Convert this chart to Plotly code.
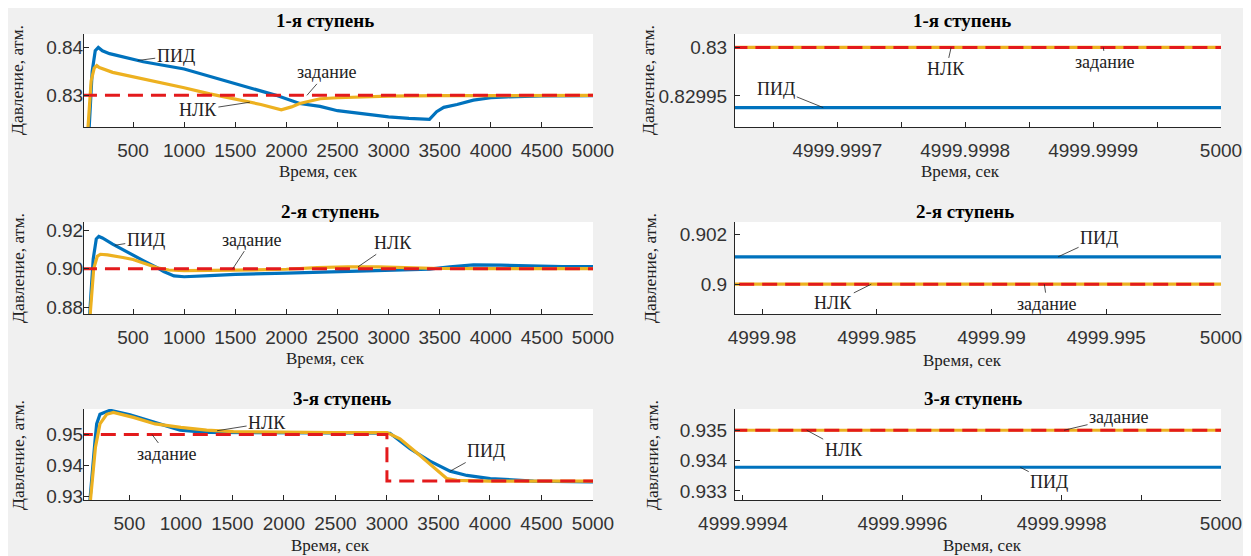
import numpy as np
import plotly.graph_objects as go

# ---------------- data ----------------
# Stage 1 (full time range)
s1_pid_t = [20, 70, 100, 130, 160, 200, 270, 400, 600, 1000, 1500, 1900, 2130, 2330, 2500, 2750, 3000, 3200, 3400, 3470, 3540, 3670, 3830, 4000, 4160, 4500, 5000]
s1_pid = [0.60, 0.823, 0.835, 0.8393, 0.8400, 0.8393, 0.8387, 0.8380, 0.8370, 0.8355, 0.8324, 0.8300, 0.8283, 0.8277, 0.8268, 0.8261, 0.8255, 0.8252, 0.8250, 0.8266, 0.8275, 0.8281, 0.8290, 0.8295, 0.8297, 0.82990, 0.82994]
s1_nlk_t = [20, 55, 90, 120, 145, 170, 300, 500, 750, 1000, 1250, 1500, 1750, 1950, 2050, 2130, 2330, 2500, 2750, 3000, 3500, 4000, 5000]
s1_nlk = [0.60, 0.822, 0.833, 0.8357, 0.8362, 0.8358, 0.8348, 0.8339, 0.8328, 0.8316, 0.8303, 0.8292, 0.8281, 0.8270, 0.8276, 0.8283, 0.8293, 0.8295, 0.8297, 0.82985, 0.82993, 0.82997, 0.83]
s1_sp_t = [0, 5000]
s1_sp = [0.83, 0.83]

# Stage 2
s2_pid_t = [20, 75, 110, 140, 165, 200, 300, 400, 500, 600, 735, 800, 900, 1000, 1250, 1500, 2000, 2500, 3000, 3400, 3600, 3830, 4100, 4400, 4700, 5000]
s2_pid = [0.70, 0.876, 0.905, 0.9155, 0.9168, 0.9160, 0.9128, 0.9098, 0.9070, 0.9042, 0.9005, 0.8985, 0.8962, 0.8958, 0.8964, 0.8970, 0.8977, 0.8984, 0.8992, 0.8998, 0.9010, 0.9020, 0.9018, 0.9013, 0.9011, 0.9011]
s2_nlk_t = [20, 80, 115, 150, 180, 250, 400, 500, 600, 735, 850, 1000, 1500, 2000, 2300, 2600, 2900, 3200, 3500, 4000, 5000]
s2_nlk = [0.70, 0.876, 0.900, 0.9065, 0.9075, 0.9072, 0.9058, 0.9048, 0.9030, 0.9005, 0.8993, 0.8990, 0.8992, 0.8997, 0.9005, 0.9010, 0.9009, 0.9004, 0.9001, 0.9000, 0.9000]
s2_sp_t = [0, 5000]
s2_sp = [0.90, 0.90]

# Stage 3
s3_pid_t = [20, 118, 167, 183, 215, 313, 507, 750, 993, 1252, 1600, 2000, 2500, 3000, 3030, 3224, 3418, 3613, 3776, 4003, 4423, 5000]
s3_pid = [0.80, 0.929, 0.948, 0.9534, 0.9565, 0.9578, 0.9563, 0.9539, 0.9514, 0.9507, 0.9506, 0.9505, 0.9505, 0.9504, 0.9504, 0.9454, 0.9414, 0.9382, 0.9368, 0.9358, 0.9350, 0.9347]
s3_nlk_t = [20, 123, 171, 215, 280, 345, 539, 750, 1000, 1250, 1510, 2000, 2500, 3000, 3127, 3321, 3515, 3580, 3679, 4000, 5000]
s3_nlk = [0.80, 0.929, 0.9459, 0.9534, 0.9565, 0.9571, 0.9555, 0.9534, 0.9523, 0.9514, 0.9509, 0.9507, 0.9506, 0.9506, 0.9486, 0.9432, 0.9374, 0.9358, 0.9352, 0.9350, 0.9350]
s3_sp_t = [0, 3000, 3000, 5000]
s3_sp = [0.95, 0.95, 0.935, 0.935]

# Zoomed end-of-run windows
z1_t = [4999.9996, 5000]
z1_pid = [0.829938, 0.829938]
z1_nlk = [0.83, 0.83]
z1_sp = [0.83, 0.83]

z2_t = [4999.978, 5000]
z2_pid = [0.9011, 0.9011]
z2_nlk = [0.90, 0.90]
z2_sp = [0.90, 0.90]

z3_t = [4999.9993, 5000]
z3_pid = [0.93378, 0.93378]
z3_nlk = [0.935, 0.935]
z3_sp = [0.935, 0.935]

titles = ["1-я ступень", "2-я ступень", "3-я ступень"]
xlabel = "Время, сек"
ylabel = "Давление, атм."

# ---------------- styling ----------------
OFF = 8                      # page body margin
W, H = 1251 - OFF, 556 - OFF  # figure size
BLUE = "#0072BD"
YEL = "#EDB120"
RED = "#E31A1C"
AX = "#262626"
DASH = "15px,8px"
TICKFONT = dict(family="Liberation Sans, Arial, sans-serif", size=19, color="#333333")
SERIF = "Liberation Serif"

def px2x(px):
    return (px - OFF) / W

def px2y(py):
    return 1 - (py - OFF) / H

left_dom = [px2x(84), px2x(593)]
right_dom = [px2x(735), px2x(1221)]
rows = [(34, 127), (222, 314), (409, 500)]

fig = go.Figure()

panels = [
    ("x", "y", s1_pid_t, s1_pid, s1_nlk_t, s1_nlk, s1_sp_t, s1_sp),
    ("x2", "y2", z1_t, z1_pid, z1_t, z1_nlk, z1_t, z1_sp),
    ("x3", "y3", s2_pid_t, s2_pid, s2_nlk_t, s2_nlk, s2_sp_t, s2_sp),
    ("x4", "y4", z2_t, z2_pid, z2_t, z2_nlk, z2_t, z2_sp),
    ("x5", "y5", s3_pid_t, s3_pid, s3_nlk_t, s3_nlk, s3_sp_t, s3_sp),
    ("x6", "y6", z3_t, z3_pid, z3_t, z3_nlk, z3_t, z3_sp),
]
for xa, ya, tp, vp, tn, vn, ts, vs in panels:
    fig.add_trace(go.Scatter(x=tp, y=vp, xaxis=xa, yaxis=ya, mode="lines",
                             line=dict(color=BLUE, width=3.2), showlegend=False, hoverinfo="skip"))
    fig.add_trace(go.Scatter(x=tn, y=vn, xaxis=xa, yaxis=ya, mode="lines",
                             line=dict(color=YEL, width=3.2), showlegend=False, hoverinfo="skip"))
    fig.add_trace(go.Scatter(x=ts, y=vs, xaxis=xa, yaxis=ya, mode="lines",
                             line=dict(color=RED, width=3, dash=DASH), showlegend=False, hoverinfo="skip"))

def axis_common():
    return dict(showline=True, linecolor=AX, linewidth=1, ticks="inside", ticklen=5,
                tickcolor=AX, tickwidth=1, showgrid=False, zeroline=False,
                tickfont=TICKFONT, fixedrange=True, automargin=False)

big_x = [500 * i for i in range(1, 11)]
big_xt = [str(v) for v in big_x]

r1_xv = [4999.99965, 4999.9997, 4999.99975, 4999.9998, 4999.99985, 4999.9999, 4999.99995, 5000]
r1_xt = ["", "4999.9997", "", "4999.9998", "", "4999.9999", "", "5000"]
r2_xv = [4999.98, 4999.985, 4999.99, 4999.995, 5000]
r2_xt = ["4999.98", "4999.985", "4999.99", "4999.995", "5000"]
r3_xv = [4999.9994, 4999.9995, 4999.9996, 4999.9997, 4999.9998, 4999.9999, 5000]
r3_xt = ["4999.9994", "", "4999.9996", "", "4999.9998", "", "5000"]

axes_cfg = [
    ("xaxis", "yaxis", left_dom, 0, [20, 5000], big_x, big_xt, [0.8234, 0.8428], [0.83, 0.84], ["0.83", "0.84"], -4),
    ("xaxis2", "yaxis2", right_dom, 0, [4999.99962, 5000], r1_xv, r1_xt, [0.829918, 0.8300138], [0.82995, 0.83], ["0.82995", "0.83"], 3),
    ("xaxis3", "yaxis3", left_dom, 1, [20, 5000], big_x, big_xt, [0.8764, 0.9243], [0.88, 0.90, 0.92], ["0.88", "0.90", "0.92"], -4),
    ("xaxis4", "yaxis4", right_dom, 1, [4999.97882, 5000], r2_xv, r2_xt, [0.8988, 0.9025], [0.9, 0.902], ["0.9", "0.902"], 3),
    ("xaxis5", "yaxis5", left_dom, 2, [60, 5000], big_x, big_xt, [0.9289, 0.9582], [0.93, 0.94, 0.95], ["0.93", "0.94", "0.95"], -4),
    ("xaxis6", "yaxis6", right_dom, 2, [4999.99939, 5000], r3_xv, r3_xt, [0.9327, 0.9357], [0.933, 0.934, 0.935], ["0.933", "0.934", "0.935"], 3),
]
layout_axes = {}
for i, (xk, yk, xd, r, xr, xtv, xtt, yr, ytv, ytt, ystand) in enumerate(axes_cfg):
    n = "" if i == 0 else str(i + 1)
    top, bot = rows[r]
    xa = axis_common()
    xa.update(domain=xd, range=xr, tickmode="array", tickvals=xtv, ticktext=xtt,
              anchor="y" + n, ticklabelstandoff=6)
    ya = axis_common()
    ya.update(domain=[px2y(bot), px2y(top)], range=yr, tickmode="array", tickvals=ytv,
              ticktext=ytt, anchor="x" + n, ticklabelstandoff=ystand)
    layout_axes[xk] = xa
    layout_axes[yk] = ya

fig.update_layout(**layout_axes)

ann = []
title_pos = [(325, 21), (962, 21), (330, 211), (965, 211), (342, 398), (973, 398)]
for k, (x, y) in enumerate(title_pos):
    ann.append(dict(text="<b>" + titles[k // 2] + "</b>", x=px2x(x), y=px2y(y), xref="paper", yref="paper",
                    showarrow=False, xanchor="center", yanchor="middle",
                    font=dict(family=SERIF, size=19, color="black")))
xl_pos = [(318, 172), (960, 172), (325, 358), (962, 360), (330, 545), (982, 545)]
for x, y in xl_pos:
    ann.append(dict(text=xlabel, x=px2x(x), y=px2y(y), xref="paper", yref="paper", showarrow=False,
                    xanchor="center", yanchor="middle", font=dict(family=SERIF, size=17, color="#222")))
yl_pos = [(17, 80), (648, 80), (18, 268), (650, 268), (18, 455), (652, 455)]
for x, y in yl_pos:
    ann.append(dict(text=ylabel, x=px2x(x), y=px2y(y), xref="paper", yref="paper", showarrow=False,
                    textangle=-90, xanchor="center", yanchor="middle",
                    font=dict(family=SERIF, size=17.5, color="#222")))

def interp(t, ts, vs):
    return float(np.interp(t, ts, vs))

labels = [
    ("x", "y", "ПИД", 546, interp(546, s1_pid_t, s1_pid), 38, -5),
    ("x", "y", "НЛК", 1643, interp(1643, s1_nlk_t, s1_nlk), -52, 8),
    ("x", "y", "задание", 2201, s1_sp[0], 20, -23),
    ("x2", "y2", "ПИД", 4999.999689, z1_pid[0], -47, -19),
    ("x2", "y2", "НЛК", 4999.999789, z1_nlk[0], -5, 22),
    ("x2", "y2", "задание", 4999.999908, z1_sp[0], 2, 15),
    ("x3", "y3", "ПИД", 321, interp(321, s2_pid_t, s2_pid), 31, -5),
    ("x3", "y3", "задание", 1476, s2_sp[0], 19, -29),
    ("x3", "y3", "НЛК", 2701, interp(2701, s2_nlk_t, s2_nlk), 35, -24),
    ("x4", "y4", "ПИД", 4999.9929, z2_pid[0], 41, -19),
    ("x4", "y4", "НЛК", 4999.98476, z2_nlk[0], -38, 19),
    ("x4", "y4", "задание", 4999.9923, z2_sp[0], 3, 20),
    ("x5", "y5", "НЛК", 1352, interp(1352, s3_nlk_t, s3_nlk), 50, -8),
    ("x5", "y5", "задание", 720, s3_sp[0], 15, 20),
    ("x5", "y5", "ПИД", 3614, interp(3614, s3_pid_t, s3_pid), 36, -20),
    ("x6", "y6", "задание", 4999.999803, z3_sp[0], 55, -13),
    ("x6", "y6", "НЛК", 4999.99948, z3_nlk[0], 37, 20),
    ("x6", "y6", "ПИД", 4999.999748, z3_pid[0], 29, 15),
]
for xr, yr, txt, x, y, ax, ay in labels:
    ann.append(dict(text=txt, x=x, y=y, xref=xr, yref=yr, showarrow=True, arrowhead=0,
                    arrowwidth=0.8, arrowcolor="#222", ax=ax, ay=ay, standoff=0,
                    font=dict(family=SERIF, size=18, color="#222")))

fig.update_layout(width=W, height=H, margin=dict(l=0, r=0, t=0, b=0, pad=0, autoexpand=False),
                  paper_bgcolor="#F0F0F0", plot_bgcolor="white",
                  annotations=ann, showlegend=False)

fig.write_html("out.html",
               post_script="document.documentElement.style.overflow='hidden';"
                           "document.body.style.overflow='hidden';")
